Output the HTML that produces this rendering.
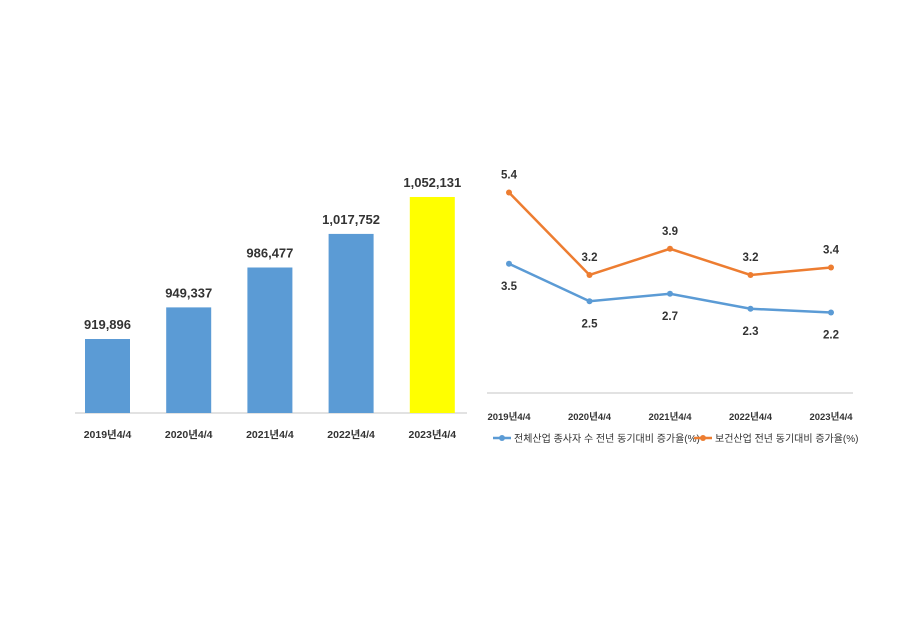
<!DOCTYPE html>
<html><head><meta charset="utf-8"><style>
body{margin:0;background:#fff;width:900px;height:637px;overflow:hidden}
svg text{font-family:"Liberation Sans","Noto Sans CJK KR",sans-serif;font-weight:bold;fill:#333}
</style></head><body>
<svg id="c" width="900" height="637">
<line x1="75" y1="413" x2="467" y2="413" stroke="#d9d9d9" stroke-width="1.5"/>
<line x1="487" y1="393" x2="853" y2="393" stroke="#d9d9d9" stroke-width="1.5"/>
</svg>
<script>
const categories=["2019년4/4","2020년4/4","2021년4/4","2022년4/4","2023년4/4"];
const employees=[919896,949337,986477,1017752,1052131];
const totalGrowth=[3.5,2.5,2.7,2.3,2.2];
const healthGrowth=[5.4,3.2,3.9,3.2,3.4];
const ns="http://www.w3.org/2000/svg",svg=document.getElementById('c');
function mk(t,a,p){const e=document.createElementNS(ns,t);for(const k in a)e.setAttribute(k,a[k]);(p||svg).appendChild(e);return e;}
const bx=i=>107.5+i*81.2, by=v=>413-(v-851000)*0.001074;
const lx=i=>509+i*80.5, ly=v=>395-v*37.5;
employees.forEach((v,i)=>{
 const r=mk('rect',{x:bx(i)-22.5,y:by(v),width:45,height:413-by(v),fill:i==4?'#ffff00':'#5b9bd5'});
 
 
 const t=mk('text',{x:bx(i),y:by(v)-10,'text-anchor':'middle','font-size':13});t.textContent=v.toLocaleString('en-US');
 
 
 const c=mk('text',{x:bx(i),y:438,'text-anchor':'middle','font-size':10.5});c.textContent=categories[i];
 
 
 const c2=mk('text',{x:lx(i),y:420,'text-anchor':'middle','font-size':9.5});c2.textContent=categories[i];
 
 
});
function series(vals,col,name,above){
 const p=mk('polyline',{points:vals.map((v,i)=>lx(i)+','+ly(v)).join(' '),fill:'none',stroke:col,'stroke-width':2.5});
 
 
 vals.forEach((v,i)=>{
  const d=mk('circle',{cx:lx(i),cy:ly(v),r:3,fill:col});
  
  
  const t=mk('text',{x:lx(i),y:above?ly(v)-14:ly(v)+26,'text-anchor':'middle','font-size':11.5});t.textContent=v.toFixed(1);
  
  
 });
}
series(totalGrowth,'#5b9bd5','total-growth',false);
series(healthGrowth,'#ed7d31','health-growth',true);
[[493,'#5b9bd5','전체산업 종사자 수 전년 동기대비 증가율(%)','legend-total'],[694,'#ed7d31','보건산업 전년 동기대비 증가율(%)','legend-health']].forEach(([x,col,txt,n])=>{
 const g=mk('g',{});
 
 
 mk('line',{x1:x,y1:438,x2:x+18,y2:438,stroke:col,'stroke-width':2.5},g);
 mk('circle',{cx:x+9,cy:438,r:3,fill:col},g);
 const t=mk('text',{x:x+21,y:442,'font-size':10,'font-weight':'normal'},g);t.style.fontWeight='normal';t.textContent=txt;
});
</script>
</body></html>
